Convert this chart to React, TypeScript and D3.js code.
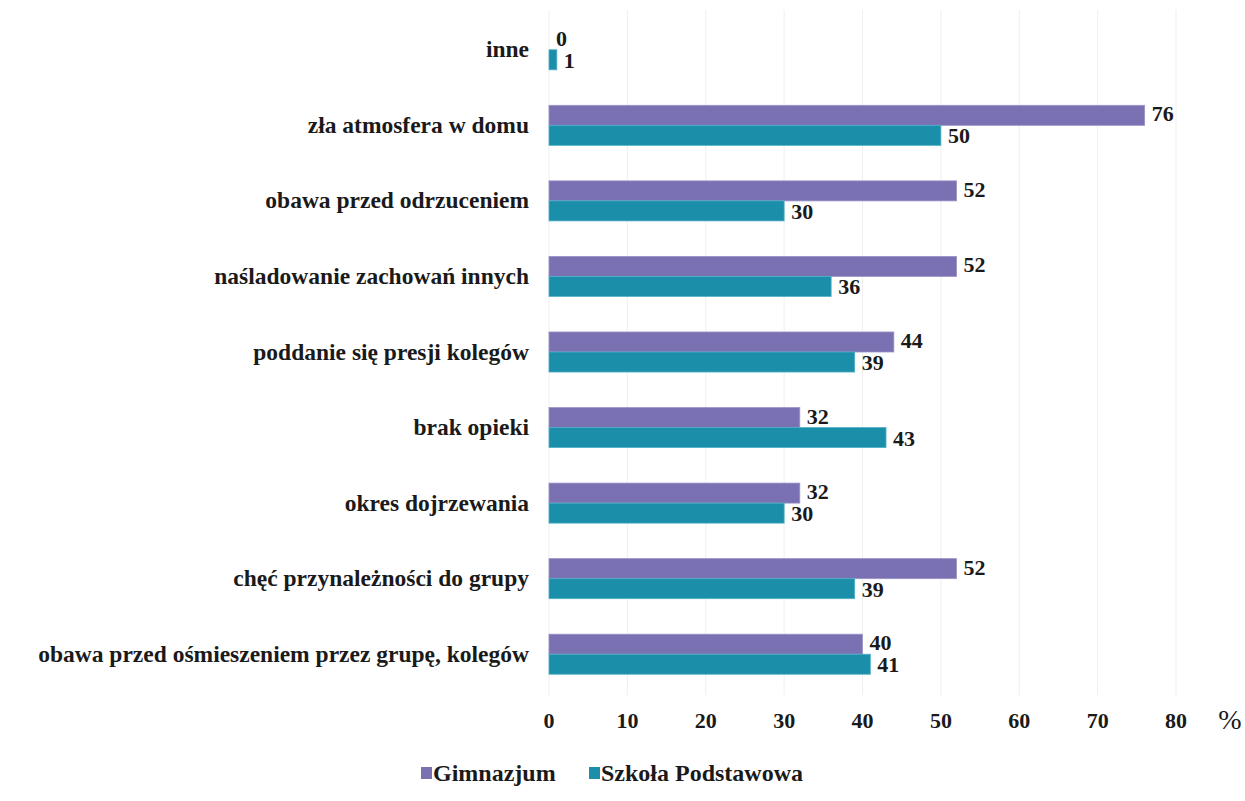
import * as d3 from 'd3';
import { useLayoutEffect, useRef } from 'react';

const categories = [
  'inne',
  'zła atmosfera w domu',
  'obawa przed odrzuceniem',
  'naśladowanie zachowań innych',
  'poddanie się presji kolegów',
  'brak opieki',
  'okres dojrzewania',
  'chęć przynależności do grupy',
  'obawa przed ośmieszeniem przez grupę, kolegów',
];
const seriesNames = ['Gimnazjum', 'Szkoła Podstawowa'];
const gimnazjum = [0, 76, 52, 52, 44, 32, 32, 52, 40];
const podstawowa = [1, 50, 30, 36, 39, 43, 30, 39, 41];
const xTicks = [0, 10, 20, 30, 40, 50, 60, 70, 80];

const colors = ['#7a71b3', '#1b8ea9'];
const font = "'Liberation Serif', 'Times New Roman', serif";

export default function App() {
  const ref = useRef<SVGSVGElement>(null);

  useLayoutEffect(() => {
    if (!ref.current) return;
    const svg = d3.select(ref.current);
    svg.selectAll('*').remove();

    const x = d3.scaleLinear().domain([0, 80]).range([549, 1176]);
    const y = d3
      .scaleBand()
      .domain(categories)
      .range([12, 692])
      .paddingInner(0.47)
      .paddingOuter(0.235);
    const inner = d3
      .scaleBand()
      .domain(seriesNames)
      .range([0, y.bandwidth()]);

    // faint grid
    svg
      .append('g')
      .selectAll('line')
      .data(xTicks)
      .join('line')
      .attr('x1', (d) => x(d))
      .attr('x2', (d) => x(d))
      .attr('y1', 10)
      .attr('y2', 695)
      .attr('stroke', '#efefef')
      .attr('stroke-width', 1);

    // category labels
    svg
      .append('g')
      .selectAll('text')
      .data(categories)
      .join('text')
      .attr('x', 529)
      .attr('y', (d) => (y(d) ?? 0) + y.bandwidth() / 2)
      .attr('dy', '0.32em')
      .attr('text-anchor', 'end')
      .style('font-family', font)
      .attr('font-weight', 'bold')
      .attr('font-size', 23.5)
      .attr('fill', '#1a1a1a')
      .text((d) => d);

    const series = [gimnazjum, podstawowa];
    series.forEach((vals, si) => {
      const rows = categories.map((c, i) => ({ c, v: vals[i] }));
      const g = svg.append('g');
      g.selectAll('rect')
        .data(rows)
        .join('rect')
        .attr('x', x(0))
        .attr('y', (d) => (y(d.c) ?? 0) + (inner(seriesNames[si]) ?? 0))
        .attr('width', (d) => Math.max(0, x(d.v) - x(0)))
        .attr('height', inner.bandwidth())
        .attr('fill', colors[si])
        .attr('stroke', si === 0 ? '#9a93c8' : '#4fb0c6')
        .attr('stroke-width', 0.8);
      g.selectAll('text')
        .data(rows)
        .join('text')
        .attr('x', (d) => x(d.v) + 7)
        .attr(
          'y',
          (d) =>
            (y(d.c) ?? 0) +
            (inner(seriesNames[si]) ?? 0) +
            inner.bandwidth() / 2 +
            (si === 0 ? -1 : 1),
        )
        .attr('dy', '0.32em')
        .style('font-family', font)
        .attr('font-weight', 'bold')
        .attr('font-size', 22)
        .attr('fill', '#1a1a1a')
        .text((d) => d.v);
    });

    // x axis labels
    svg
      .append('g')
      .selectAll('text')
      .data(xTicks)
      .join('text')
      .attr('x', (d) => x(d))
      .attr('y', 728)
      .attr('text-anchor', 'middle')
      .style('font-family', font)
      .attr('font-weight', 'bold')
      .attr('font-size', 22)
      .attr('fill', '#1a1a1a')
      .text((d) => d);
    svg
      .append('text')
      .attr('x', 1230)
      .attr('y', 729)
      .attr('text-anchor', 'middle')
      .style('font-family', font)
      .attr('font-size', 28)
      .attr('fill', '#1a1a1a')
      .text('%');

    // legend
    const legendX = [421, 589];
    const legend = svg
      .append('g')
      .selectAll('g')
      .data(seriesNames)
      .join('g')
      .attr('transform', (_, i) => `translate(${legendX[i]},773)`);
    legend
      .append('rect')
      .attr('x', 0)
      .attr('y', -6)
      .attr('width', 11)
      .attr('height', 12)
      .attr('fill', (_, i) => colors[i]);
    legend
      .append('text')
      .attr('x', 12)
      .attr('y', 0)
      .attr('dy', '0.32em')
      .style('font-family', font)
      .attr('font-weight', 'bold')
      .attr('font-size', 24)
      .attr('fill', '#1a1a1a')
      .text((d) => d);
  }, []);

  return (
    <svg
      ref={ref}
      width={1245}
      height={801}
      style={{ position: 'absolute', left: 0, top: 0, background: '#fff' }}
    />
  );
}
